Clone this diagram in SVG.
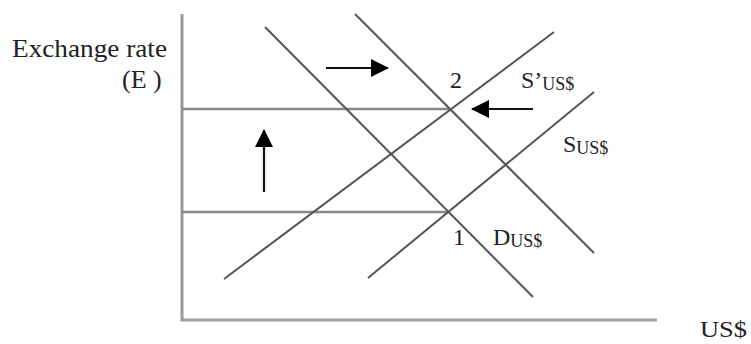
<svg xmlns="http://www.w3.org/2000/svg" width="751" height="344" viewBox="0 0 751 344">
<defs>
<marker id="ah" markerWidth="18" markerHeight="18" refX="17" refY="9" orient="auto" markerUnits="userSpaceOnUse">
<path d="M0,0 L18,9 L0,18 Z" fill="#000"/>
</marker>
</defs>
<style>
.ax{stroke:#999;stroke-width:3;fill:none}
.ln{stroke:#555;stroke-width:2;fill:none}
.hl{stroke:#888;stroke-width:2.5;fill:none}
.ar{stroke:#111;stroke-width:2.2;fill:none;marker-end:url(#ah)}
text{font-family:"Liberation Serif","Times New Roman",serif;fill:#222}
.t{font-size:26px}
.l{font-size:24px}
.s{font-size:18px}
</style>
<rect width="751" height="344" fill="#fff"/>
<g id="axes">
<path class="ax" d="M182,14 L182,320 L657,320"/>
</g>
<g id="connectors">
<path class="hl" d="M182,109 L449,109"/>
<path class="hl" d="M182,212 L448,212"/>
<path class="ln" d="M265,27 L533,297"/>
<path class="ln" d="M355,14 L594,253"/>
<path class="ln" d="M224,279 L554,32"/>
<path class="ln" d="M368,278 L594,92"/>
<path class="ar" d="M326,68 L388,68"/>
<path class="ar" d="M533,109 L472,109"/>
<path class="ar" d="M264,192 L264,130"/>
</g>
<g id="yaxis-label">
<text class="t" x="12" y="57" textLength="155" lengthAdjust="spacingAndGlyphs">Exchange rate</text>
<text class="t" x="122" y="88">(E )</text>
</g>
<g id="point2"><text class="l" x="450" y="88">2</text></g>
<g id="point1"><text class="l" x="453" y="245">1</text></g>
<g id="S-prime"><text class="l" x="521" y="88">S’<tspan class="s" dy="2">US$</tspan></text></g>
<g id="S"><text class="l" x="563" y="152">S<tspan class="s" dy="2">US$</tspan></text></g>
<g id="D"><text class="l" x="493" y="245">D<tspan class="s" dy="2">US$</tspan></text></g>
<g id="xaxis-label"><text class="l" x="700" y="337" textLength="47" lengthAdjust="spacingAndGlyphs">US$</text></g>
</svg>
